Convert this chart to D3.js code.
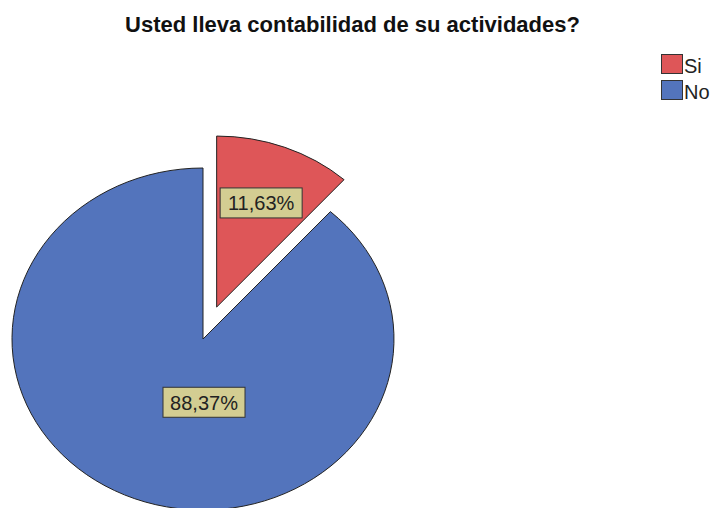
<!DOCTYPE html>
<html>
<head>
<meta charset="utf-8">
<script src="https://cdn.jsdelivr.net/npm/d3@7"></script>
<style>
  body { margin: 0; background: #fff; }
  text { font-family: "Liberation Sans", Arial, sans-serif; }
</style>
</head>
<body>
<div id="chart"></div>
<script>
const title = 'Usted lleva contabilidad de su actividades?';
const categories = ['Si', 'No'];
const percents = [11.63, 88.37];
const colors = ['#de5658', '#5374bc'];
const exploded = ['Si'];

const width = 712;
const height = 508;
const cx = 203, cy = 339;
const rx = 191, ry = 171;

const svg = d3.select('#chart')
    .append('svg')
        .attr('width', width)
        .attr('height', height);

svg.append('text')
    .attr('x', 352.5)
    .attr('y', 32)
    .attr('text-anchor', 'middle')
    .style('font-size', '22px')
    .style('font-weight', 'bold')
    .style('fill', '#111')
    .text(title);

const pie = d3.pie().sort(null).value(d => d.value);
const arcs = pie(categories.map((c, i) => ({name: c, value: percents[i], color: colors[i]})));

// unit arc, stretched into an ellipse with a scale transform
const arc = d3.arc().innerRadius(0).outerRadius(1);
const fmt = v => d3.format('.2f')(v).replace('.', ',') + '%';

const slices = svg.append('g')
    .selectAll('g')
    .data(arcs)
    .join('g')
        .attr('transform', d => {
            const mid = (d.startAngle + d.endAngle) / 2;
            const k = exploded.includes(d.data.name) ? 0.2 : 0;
            return `translate(${cx + Math.sin(mid) * k * rx},${cy - Math.cos(mid) * k * ry})`;
        });

slices.append('path')
    .attr('transform', `scale(${rx},${ry})`)
    .attr('d', arc)
    .attr('fill', d => d.data.color)
    .attr('stroke', '#222')
    .attr('stroke-width', 1)
    .attr('vector-effect', 'non-scaling-stroke');

// labels: area centroid for small slices, below the centre for the big one
const labels = slices.append('g')
    .attr('transform', d => {
        const a = (d.endAngle - d.startAngle) / 2;
        const mid = (d.startAngle + d.endAngle) / 2;
        if (a > Math.PI / 2) return `translate(1,${0.37 * ry})`;
        const r = 2 * Math.sin(a) / (3 * a);
        return `translate(${Math.sin(mid) * r * rx},${-Math.cos(mid) * r * ry})`;
    });

labels.append('rect')
    .attr('x', -41)
    .attr('y', -15)
    .attr('width', 82)
    .attr('height', 30)
    .attr('fill', '#d3cd92')
    .attr('stroke', '#333')
    .attr('stroke-width', 1);

labels.append('text')
    .attr('text-anchor', 'middle')
    .attr('y', 7.5)
    .style('font-size', '20px')
    .style('fill', '#222')
    .text(d => fmt(d.data.value));

const legend = svg.append('g')
    .selectAll('g')
    .data(arcs)
    .join('g')
        .attr('transform', (d, i) => `translate(661,${54 + i * 26})`);

legend.append('rect')
    .attr('x', 0.5)
    .attr('y', 0.5)
    .attr('width', 21)
    .attr('height', 19)
    .attr('fill', d => d.data.color)
    .attr('stroke', '#333')
    .attr('stroke-width', 1);

legend.append('text')
    .attr('x', 23)
    .attr('y', 19)
    .style('font-size', '20px')
    .style('fill', '#222')
    .text(d => d.data.name);
</script>
</body>
</html>
